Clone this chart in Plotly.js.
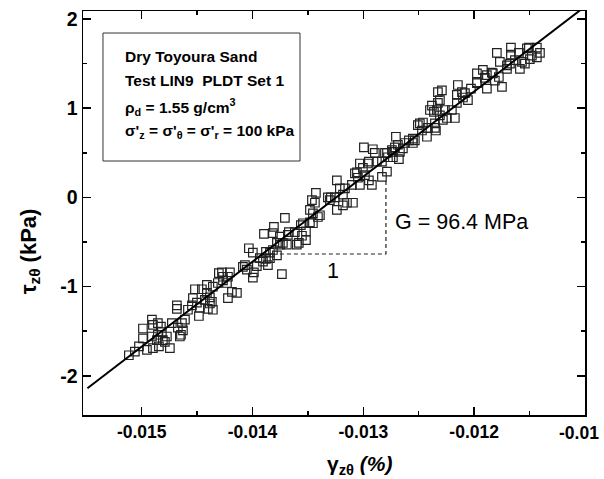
<!DOCTYPE html>
<html>
<head>
<meta charset="utf-8">
<script src="https://cdn.plot.ly/plotly-3.0.1.min.js"></script>
<style>html,body{margin:0;padding:0;background:#fff;}#chart{width:604px;height:479px;}</style>
</head>
<body>
<div id="chart"></div>
<script>
// shear strain gamma_ztheta (%) of each measured point
var gammaZT = [
-0.015116,-0.015025,-0.014989,-0.014989,-0.014908,-0.014899,-0.014854,-0.014827,-0.014818,-0.014908,
-0.014863,-0.014899,-0.014845,-0.014791,-0.014746,-0.014728,-0.014674,-0.014656,-0.014637,-0.014628,
-0.014683,-0.014683,-0.014583,-0.014538,-0.014520,-0.014502,-0.014484,-0.014457,-0.014430,-0.014412,
-0.014403,-0.014385,-0.014358,-0.014358,-0.014385,-0.014773,-0.014646,-0.014610,-0.014547,-0.014475,
-0.014412,-0.014367,-0.014854,-0.014809,-0.014953,-0.015062,-0.014304,-0.014313,-0.014276,-0.014267,
-0.014231,-0.014267,-0.014204,-0.014222,-0.014141,-0.014186,-0.014069,-0.014051,-0.013997,-0.013988,
-0.014033,-0.013997,-0.013961,-0.013934,-0.013906,-0.013879,-0.013861,-0.013843,-0.013816,-0.013780,
-0.013735,-0.013753,-0.013726,-0.013690,-0.013753,-0.013681,-0.013600,-0.013897,-0.013816,-0.014087,
-0.013879,-0.013807,-0.013708,-0.013780,-0.013672,-0.013618,-0.013582,-0.013554,-0.013518,-0.013518,
-0.013545,-0.013482,-0.013455,-0.013455,-0.013410,-0.013482,-0.013464,-0.013428,-0.013437,-0.013320,
-0.014222,-0.013843,-0.013564,-0.013392,-0.013293,-0.013239,-0.013212,-0.013166,-0.013184,-0.013103,
-0.013031,-0.013049,-0.013058,-0.013031,-0.013004,-0.012986,-0.012950,-0.012923,-0.012950,-0.012995,
-0.012914,-0.012896,-0.012832,-0.012832,-0.012787,-0.012787,-0.012742,-0.012733,-0.012679,-0.012706,
-0.012688,-0.012643,-0.012625,-0.012589,-0.012535,-0.012508,-0.012471,-0.012462,-0.012426,-0.012417,
-0.012399,-0.012381,-0.012363,-0.012345,-0.012327,-0.012327,-0.012309,-0.013239,-0.013148,-0.013094,
-0.013184,-0.013257,-0.013076,-0.012959,-0.012878,-0.012553,-0.012553,-0.012715,-0.012733,-0.012670,
-0.012805,-0.012778,-0.012490,-0.012354,-0.013302,-0.012354,-0.012336,-0.012309,-0.012264,-0.012282,
-0.012246,-0.012174,-0.012291,-0.012156,-0.012156,-0.012147,-0.012101,-0.012083,-0.012056,-0.012029,
-0.011975,-0.011975,-0.011921,-0.011885,-0.011903,-0.011840,-0.011813,-0.011777,-0.011749,-0.011795,
-0.011704,-0.011677,-0.011668,-0.011668,-0.011596,-0.011587,-0.011569,-0.011542,-0.011506,-0.011479,
-0.011434,-0.011434,-0.011406,-0.011497,-0.012201,-0.012110,-0.011975,-0.011831,-0.011885,-0.011632,
-0.011524,-0.011768,-0.011704
];
// shear stress tau_ztheta (kPa) of each measured point
var tauZT = [
-1.77,-1.67,-1.58,-1.47,-1.37,-1.43,-1.41,-1.45,-1.51,-1.56,
-1.60,-1.69,-1.67,-1.62,-1.69,-1.41,-1.46,-1.56,-1.41,-1.49,
-1.21,-1.25,-1.26,-1.13,-1.03,-1.18,-1.33,-1.03,-1.15,-0.98,
-1.25,-1.19,-1.00,-1.26,-1.12,-1.56,-1.54,-1.37,-1.21,-1.24,
-1.07,-1.17,-1.54,-1.60,-1.71,-1.73,-0.85,-0.96,-0.84,-0.89,
-0.96,-0.93,-0.84,-1.13,-1.07,-1.06,-0.76,-0.81,-0.90,-0.84,
-0.57,-0.62,-0.77,-0.68,-0.72,-0.69,-0.76,-0.62,-0.59,-0.65,
-0.86,-0.53,-0.51,-0.53,-0.44,-0.42,-0.53,-0.41,-0.40,-0.78,
-0.61,-0.33,-0.23,-0.51,-0.39,-0.39,-0.51,-0.43,-0.48,-0.38,
-0.29,-0.28,-0.29,-0.18,-0.22,-0.14,-0.03,0.05,-0.06,0.00,
-0.89,-0.68,-0.31,-0.20,0.00,0.19,0.10,0.10,0.03,0.14,
0.14,0.22,0.28,0.38,0.33,0.25,0.19,0.14,0.40,0.56,
0.54,0.50,0.40,0.23,0.29,0.50,0.53,0.45,0.43,0.68,
0.59,0.55,0.61,0.64,0.64,0.81,0.75,0.84,0.68,0.78,
0.98,1.03,0.96,0.75,1.06,1.18,0.92,-0.14,-0.06,-0.06,
-0.09,0.00,0.27,0.38,0.40,0.66,0.61,0.56,0.51,0.51,
0.50,0.45,0.83,0.83,-0.03,0.78,0.98,1.09,0.98,0.87,
0.89,0.89,1.20,1.15,1.06,1.26,1.12,1.17,1.09,1.22,
1.28,1.39,1.43,1.22,1.34,1.40,1.31,1.35,1.24,1.62,
1.44,1.50,1.60,1.68,1.62,1.44,1.52,1.50,1.68,1.59,
1.68,1.57,1.62,1.55,0.98,1.18,1.29,1.39,1.37,1.54,
1.67,1.52,1.48
];
// fitted straight line (G = 96.4 MPa)
var fitGamma = [-0.01549, -0.01100];
var fitTau = [-2.14, 2.14];
// slope triangle
var triGamma = [-0.013753, -0.012796, -0.012796];
var triTau = [-0.635, -0.635, 0.216];
// ticks (the last x label, "-0.01", is drawn as a note so it stays inside the page)
var xTickVals = [-0.015, -0.014, -0.013, -0.012, -0.011];
var xTickText = ['-0.015', '-0.014', '-0.013', '-0.012', ''];
var xLastTickText = '-0.01';
var xMinorVals = [-0.0145, -0.0135, -0.0125, -0.0115];
var yTickVals = [-2, -1, 0, 1, 2];
var yTickText = ['-2', '-1', '0', '1', '2'];
var yMinorVals = [-1.5, -0.5, 0.5, 1.5];

var FONT = 'Liberation Sans, Arial, sans-serif';

var traces = [
  {x: gammaZT, y: tauZT, type: 'scatter', mode: 'markers',
   marker: {symbol: 'square-open', size: 8.5, color: '#222', line: {width: 1.2, color: '#222'}},
   hoverinfo: 'x+y', showlegend: false},
  {x: fitGamma, y: fitTau, type: 'scatter', mode: 'lines',
   line: {color: '#000', width: 2}, showlegend: false},
  {x: triGamma, y: triTau, type: 'scatter', mode: 'lines',
   line: {color: '#222', width: 1.2, dash: '4px,3px'}, showlegend: false}
];

function axisCommon(tickvals, ticktext, minorvals, size) {
  return {
    tickmode: 'array', tickvals: tickvals, ticktext: ticktext,
    ticks: 'inside', ticklen: 8, tickwidth: 1.5, tickcolor: '#000',
    showline: true, linecolor: '#000', linewidth: 1.5, mirror: 'ticks',
    showgrid: false, zeroline: false,
    tickfont: {family: FONT, size: size, color: '#000', weight: 'bold'},
    minor: {tickmode: 'array', tickvals: minorvals, ticks: 'inside', ticklen: 4,
            tickwidth: 1.5, tickcolor: '#000', showgrid: false}
  };
}

var xa = axisCommon(xTickVals, xTickText, xMinorVals, 17.5);
xa.range = [-0.01553, -0.0109995];
var ya = axisCommon(yTickVals, yTickText, yMinorVals, 19.5);
ya.range = [-2.44, 2.09];

var legFont = {family: FONT, size: 15.5, color: '#000', weight: 'bold'};
var layout = {
  width: 604, height: 479,
  margin: {l: 83, r: 19, t: 11, b: 64},
  paper_bgcolor: '#fff', plot_bgcolor: '#fff',
  showlegend: false,
  xaxis: xa, yaxis: ya,
  shapes: [
    {type: 'rect', xref: 'paper', yref: 'paper', x0: 0.0398, x1: 0.4323, y0: 0.6287, y1: 0.9455,
     line: {color: '#333', width: 1}, fillcolor: 'rgba(0,0,0,0)'}
  ],
  annotations: [
    {xref: 'paper', yref: 'paper', x: 0.079, y: 0.8869, xanchor: 'left', yanchor: 'middle', showarrow: false,
     text: 'Dry Toyoura Sand', font: legFont},
    {xref: 'paper', yref: 'paper', x: 0.079, y: 0.8292, xanchor: 'left', yanchor: 'middle', showarrow: false,
     text: 'Test LIN9&nbsp; PLDT Set 1', font: legFont},
    {xref: 'paper', yref: 'paper', x: 0.079, y: 0.7631, xanchor: 'left', yanchor: 'middle', showarrow: false,
     text: 'ρ<sub>d</sub> = 1.55 g/cm<sup>3</sup>', font: legFont},
    {xref: 'paper', yref: 'paper', x: 0.079, y: 0.7012, xanchor: 'left', yanchor: 'middle', showarrow: false,
     text: "σ'<sub>z</sub> = σ'<sub>θ</sub> = σ'<sub>r</sub> = 100 kPa", font: legFont},
    {xref: 'paper', yref: 'paper', x: 0.6175, y: 0.4777, xanchor: 'left', yanchor: 'middle', showarrow: false,
     text: 'G = 96.4 MPa', font: {family: FONT, size: 21.5, color: '#000'}},
    {xref: 'paper', yref: 'paper', x: 0.498, y: 0.3564, xanchor: 'center', yanchor: 'middle', showarrow: false,
     text: '1', font: {family: FONT, size: 21.5, color: '#000'}},
    {xref: 'paper', yref: 'paper', x: 0.989, y: -0.0446, xanchor: 'center', yanchor: 'middle', showarrow: false,
     text: xLastTickText, font: {family: FONT, size: 17.5, color: '#000', weight: 'bold'}},
    {xref: 'paper', yref: 'paper', x: -0.1056, y: 0.405, xanchor: 'center', yanchor: 'middle', showarrow: false,
     textangle: -90, text: 'τ<sub>zθ</sub> (kPa)', font: {family: FONT, size: 22, color: '#000', weight: 'bold'}},
    {xref: 'paper', yref: 'paper', x: 0.5518, y: -0.124, xanchor: 'center', yanchor: 'middle', showarrow: false,
     text: 'γ<sub>zθ</sub> <i>(%)</i>', font: {family: FONT, size: 21, color: '#000', weight: 'bold'}}
  ]
};

Plotly.newPlot('chart', traces, layout, {displayModeBar: false, staticPlot: true});
</script>
</body>
</html>
